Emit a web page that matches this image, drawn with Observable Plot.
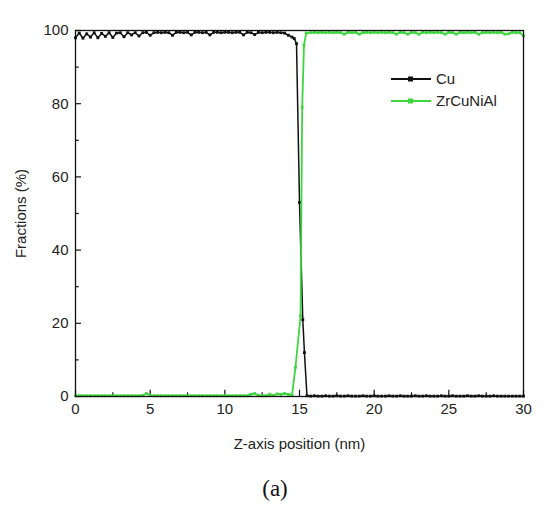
<!DOCTYPE html>
<html><head><meta charset="utf-8">
<script src="https://cdn.jsdelivr.net/npm/d3@7"></script>
<script src="https://cdn.jsdelivr.net/npm/@observablehq/plot@0.6"></script>
<style>
body{margin:0;background:#fff;font-family:"Liberation Sans",Arial,sans-serif;}
#wrap{position:relative;width:550px;height:531px;}
#legend{position:absolute;left:390px;top:68px;font-size:15px;color:#222;line-height:22px;}
#legend div{display:flex;align-items:center;}
#legend svg{margin-right:4px;}
#cap{position:absolute;left:0;width:550px;top:476px;text-align:center;font-family:"Liberation Serif","DejaVu Serif",serif;font-size:23px;color:#111;}
</style></head>
<body>
<div id="wrap">
<div id="chart"></div>
<div id="legend"></div>
<div id="cap">(a)</div>
</div>
<script>
const seriesNames = ["Cu", "ZrCuNiAl"];
const seriesColors = ["#111111", "#3dd63d"];
const xLabel = "Z-axis position (nm)";
const yLabel = "Fractions (%)";
const caption = "(a)";
const xTicks = [0, 5, 10, 15, 20, 25, 30];
const xMinorTicks = [2.5, 7.5, 12.5, 17.5, 22.5, 27.5];
const yTicks = [0, 20, 40, 60, 80, 100];
const yMinorTicks = [10, 30, 50, 70, 90];

const zCu = [0,0.25,0.5,0.75,1,1.25,1.5,1.75,2,2.25,2.5,2.75,3,3.25,3.5,3.75,4,4.25,4.5,4.75,5,5.25,5.5,5.75,6,6.25,6.5,6.75,7,7.25,7.5,7.75,8,8.25,8.5,8.75,9,9.25,9.5,9.75,10,10.25,10.5,10.75,11,11.25,11.5,11.75,12,12.25,12.5,12.75,13,13.25,13.5,13.75,14,14.25,14.5,
  14.65,14.8,15.0,15.22,15.33,15.5,
  15.75,16,16.25,16.5,16.75,17,17.25,17.5,17.75,18,18.25,18.5,18.75,19,19.25,19.5,19.75,20,20.25,20.5,20.75,21,21.25,21.5,21.75,22,22.25,22.5,22.75,23,23.25,23.5,23.75,24,24.25,24.5,24.75,25,25.25,25.5,25.75,26,26.25,26.5,26.75,27,27.25,27.5,27.75,28,28.25,28.5,28.75,29,29.25,29.5,29.75,30];
const cu = [98.0,99.3,97.9,99.1,98.2,99.4,98.0,99.2,98.4,99.4,
  98.1,99.3,99.4,98.3,99.4,98.8,99.4,98.5,99.4,99.5,
  98.7,99.4,99.5,99.4,99.5,99.4,98.7,99.5,99.5,99.4,
  99.5,98.8,99.5,99.5,99.4,99.5,98.8,99.5,99.5,99.4,
  99.5,99.5,99.4,99.5,99.5,98.8,99.5,99.4,98.9,99.5,
  99.4,99.5,99.5,99.4,99.5,99.4,99.3,98.7,98.2,
  97.8,96.4,53.0,21.0,12.0,0.2,
  0.1,0.2,0.1,0.1,0.2,0.1,0.1,0.2,0.1,0.1,0.2,0.1,0.1,0.1,0.2,0.1,0.1,0.2,0.1,0.1,
  0.1,0.2,0.1,0.1,0.2,0.1,0.1,0.1,0.2,0.1,0.1,0.2,0.1,0.1,0.1,0.2,0.1,0.1,0.2,0.1,
  0.1,0.1,0.2,0.1,0.1,0.2,0.1,0.1,0.1,0.2,0.1,0.1,0.1,0.1,0.1,0.1,0.1,0.1];

const zAlloy = [0,0.25,0.5,0.75,1,1.25,1.5,1.75,2,2.25,2.5,2.75,3,3.25,3.5,3.75,4,4.25,4.5,4.75,5,5.25,5.5,5.75,6,6.25,6.5,6.75,7,7.25,7.5,7.75,8,8.25,8.5,8.75,9,9.25,9.5,9.75,10,10.25,10.5,10.75,11,11.25,11.5,11.75,12,12.25,12.5,12.75,13,13.25,13.5,13.75,14,14.25,14.5,
  14.73,15.07,15.18,15.3,15.45,
  15.75,16,16.25,16.5,16.75,17,17.25,17.5,17.75,18,18.25,18.5,18.75,19,19.25,19.5,19.75,20,20.25,20.5,20.75,21,21.25,21.5,21.75,22,22.25,22.5,22.75,23,23.25,23.5,23.75,24,24.25,24.5,24.75,25,25.25,25.5,25.75,26,26.25,26.5,26.75,27,27.25,27.5,27.75,28,28.25,28.5,28.75,29,29.25,29.5,29.75,30];
const alloy = [0.2,0.2,0.2,0.2,0.2,0.2,0.2,0.2,0.2,0.2,
  0.2,0.2,0.2,0.2,0.2,0.2,0.2,0.2,0.3,0.8,
  0.3,0.2,0.2,0.2,0.2,0.2,0.2,0.2,0.2,0.2,
  0.2,0.2,0.2,0.2,0.2,0.2,0.2,0.2,0.2,0.2,
  0.2,0.2,0.2,0.2,0.2,0.2,0.2,0.6,0.8,0.3,
  0.2,0.2,0.6,0.3,0.7,0.6,0.8,0.6,0.4,
  8.0,22.0,79.0,96.0,99.3,
  99.4,99.5,99.4,99.5,99.4,99.5,99.4,99.5,99.4,99.0,
  99.5,99.4,99.5,99.0,99.4,99.5,99.4,99.5,99.4,99.5,
  99.4,99.5,99.4,99.0,99.5,99.4,99.0,99.5,99.4,99.0,
  99.5,99.4,99.5,99.4,99.5,99.4,99.0,99.5,99.4,99.0,
  99.5,99.4,99.5,99.4,99.5,99.0,99.4,99.5,99.4,99.5,
  99.4,99.5,99.0,99.1,99.5,99.4,99.4,98.6];

const cuData = zCu.map((z, i) => ({z, v: cu[i]}));
const alloyData = zAlloy.map((z, i) => ({z, v: alloy[i]}));

const plot = Plot.plot({
  width: 550, height: 460,
  marginLeft: 75, marginRight: 27, marginTop: 30, marginBottom: 64,
  x: {domain: [0, 30]},
  y: {domain: [0, 100]},
  style: {fontFamily: "'Liberation Sans', Arial, sans-serif", fontSize: "15px", color: "#222", background: "white", overflow: "visible"},
  marks: [
    Plot.axisX(xTicks, {tickSize: 0, tickPadding: 7, fontSize: 15, label: xLabel, labelAnchor: "center", labelArrow: "none", labelOffset: 52}),
    Plot.axisY(yTicks, {tickSize: 0, tickPadding: 7, fontSize: 15, label: yLabel, labelAnchor: "center", labelArrow: "none", labelOffset: 60}),
    Plot.ruleX(xTicks, {x: d => d, y1: 0, y2: 1.7, stroke: "#111", strokeWidth: 1.2}),
    Plot.ruleX(xMinorTicks, {x: d => d, y1: 0, y2: 1.0, stroke: "#111", strokeWidth: 1.2}),
    Plot.ruleY(yTicks, {y: d => d, x1: 0, x2: 0.4, stroke: "#111", strokeWidth: 1.2}),
    Plot.ruleY(yMinorTicks, {y: d => d, x1: 0, x2: 0.25, stroke: "#111", strokeWidth: 1.2}),
    Plot.line(cuData, {x: "z", y: "v", stroke: seriesColors[0], strokeWidth: 1.5}),
    Plot.dot(cuData, {x: "z", y: "v", symbol: "square", r: 1.6, fill: seriesColors[0], stroke: "none"}),
    Plot.line(alloyData, {x: "z", y: "v", stroke: seriesColors[1], strokeWidth: 1.8}),
    Plot.dot(alloyData, {x: "z", y: "v", symbol: "square", r: 1.6, fill: seriesColors[1], stroke: "none"}),
    Plot.frame({stroke: "#111", strokeWidth: 1.3})
  ]
});
document.getElementById("chart").appendChild(plot);
document.getElementById("cap").textContent = caption;

const legend = document.getElementById("legend");
seriesNames.forEach((name, i) => {
  const row = document.createElement("div");
  row.innerHTML = `<svg width="42" height="12"><line x1="1" x2="41" y1="6" y2="6" stroke="${seriesColors[i]}" stroke-width="1.8"/><rect x="18" y="3.5" width="5" height="5" fill="${seriesColors[i]}"/></svg><span>${name}</span>`;
  legend.appendChild(row);
});
</script>
</body></html>
